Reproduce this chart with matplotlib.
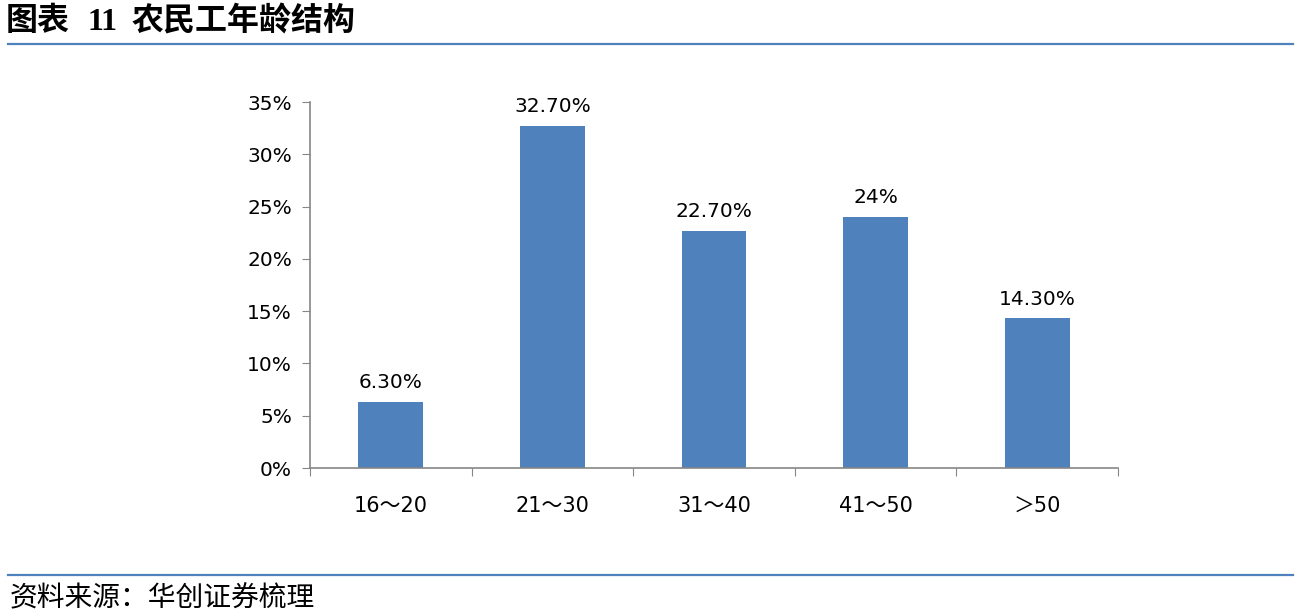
import matplotlib
matplotlib.use("Agg")
import matplotlib.pyplot as plt
from matplotlib.lines import Line2D

# data
categories = ["16～20", "21～30", "31～40", "41～50", "＞50"]
values = [6.3, 32.7, 22.7, 24.0, 14.3]
value_labels = ["6.30%", "32.70%", "22.70%", "24%", "14.30%"]
yticks = [0, 5, 10, 15, 20, 25, 30, 35]

W, H = 1297, 616
fig = plt.figure(figsize=(W / 100, H / 100), dpi=100)
fam = ["DejaVu Sans", "Noto Sans CJK SC"]

def fx(px):
    return px / W

def fy(py):
    return 1 - py / H

ax = fig.add_axes([fx(310), fy(468), fx(1118) - fx(310), fy(102) - fy(468)])
x = list(range(len(categories)))
ax.bar(x, values, width=0.4, color="#4F81BD", zorder=2)
for xi, v, lab in zip(x, values, value_labels):
    ax.annotate(lab, (xi, v), xytext=(0, 7), textcoords="offset points",
                ha="center", va="bottom", fontsize=14.5, family=fam, color="#000000")

ax.set_xlim(-0.5, len(categories) - 0.5)
ax.set_ylim(0, 35)
ax.set_yticks(yticks)
ax.set_yticklabels([f"{t}%" for t in yticks], fontsize=14.5, family=fam)
ax.set_xticks([i - 0.5 for i in range(len(categories) + 1)])
ax.set_xticklabels([])
ax.set_xticks(x, minor=True)
ax.set_xticklabels(categories, minor=True, fontsize=15, family=fam)
ax.tick_params(axis="x", which="minor", length=0, pad=20)
ax.tick_params(axis="x", which="major", length=6, color="#868686", direction="out")
ax.tick_params(axis="y", length=6, color="#868686", direction="out", pad=7)
for s in ["top", "right"]:
    ax.spines[s].set_visible(False)
for s in ["left", "bottom"]:
    ax.spines[s].set_color("#868686")
    ax.spines[s].set_linewidth(1.2)

# header
cjk_bold = dict(family=["Noto Sans CJK SC"], fontweight="bold", fontsize=23, va="center", ha="left")
fig.text(fx(6), fy(21), "图表", **cjk_bold)
fig.text(fx(88), fy(22), "11", family=["Liberation Serif"], fontweight="bold",
         fontsize=23, va="center", ha="left")
fig.text(fx(132), fy(21), "农民工年龄结构", **cjk_bold)
fig.add_artist(Line2D([fx(8), fx(1293)], [fy(44), fy(44)], color="#4F81BD", lw=1.6))

# footer
fig.add_artist(Line2D([fx(8), fx(1293)], [fy(575), fy(575)], color="#4F81BD", lw=1.6))
fig.text(fx(10), fy(598), "资料来源：华创证券梳理", family=["Noto Sans CJK SC"],
         style="italic", fontsize=20, va="center", ha="left")

fig.savefig("out.png", dpi=100)
